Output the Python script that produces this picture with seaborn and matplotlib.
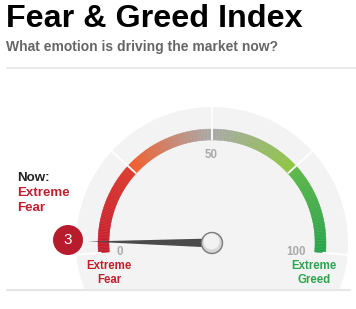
import numpy as np
import matplotlib
matplotlib.use("Agg")
import matplotlib.pyplot as plt
from matplotlib.patches import Wedge, Circle, Polygon
from matplotlib.colors import LinearSegmentedColormap
import seaborn as sns

# ---- data ----
title = "Fear & Greed Index"
subtitle = "What emotion is driving the market now?"
current_value = 3
current_label = ["Now:", "Extreme", "Fear"]
tick_values = [0, 50, 100]
zone_bounds = [0, 25, 50, 75, 100]
zone_colors = [("#c41c2c", "#dc382c"),
               ("#f25a28", "#a8a8a8"),
               ("#a8a8a8", "#8cc63f"),
               ("#5bb747", "#2aa24b")]
end_labels = ["Extreme\nFear", "Extreme\nGreed"]

sns.set_theme(style="white")
plt.rcParams["font.family"] = ["Liberation Sans", "DejaVu Sans"]

W, H = 356, 309
fig = plt.figure(figsize=(W / 100, H / 100), dpi=100)
ax = fig.add_axes([0, 0, 1, 1])
ax.set_xlim(0, W)
ax.set_ylim(H, 0)
ax.axis("off")

cx, cy = 212, 243
r_gray = 136
r_out, r_in = 114, 103

def ang(v):
    return 185 - 1.9 * v

def pt(v, r):
    a = np.radians(ang(v))
    return cx + r * np.cos(a), cy - r * np.sin(a)

# background disk, clipped at bottom separator
disk = Circle((cx, cy), r_gray, facecolor="#f3f3f3", edgecolor="none", zorder=1)
ax.add_patch(disk)
clip = plt.Rectangle((0, 0), W, 290, transform=ax.transData)
disk.set_clip_path(clip)

# gradient arc (y axis inverted -> wedge angles negated)
for (lo, hi), (c0, c1) in zip(zip(zone_bounds[:-1], zone_bounds[1:]), zone_colors):
    cmap = LinearSegmentedColormap.from_list("z", [c0, c1])
    n = 60
    vs = np.linspace(lo, hi, n + 1)
    for i in range(n):
        a1, a2 = ang(vs[i]), ang(vs[i + 1])
        col = cmap(i / (n - 1))
        w = Wedge((cx, cy), r_out, -a1, -a2, width=r_out - r_in,
                  facecolor=col, edgecolor=col, linewidth=0.3, zorder=2)
        ax.add_patch(w)

# white separators
for v in zone_bounds:
    x1, y1 = pt(v, r_in if v in (25, 50, 75) else r_out - 3)
    x2, y2 = pt(v, r_gray + 1)
    ax.plot([x1, x2], [y1, y2], color="white", lw=1.3, zorder=3, solid_capstyle="butt")

# tick labels
tick_pos = {0: (120, 252), 50: (211, 155), 100: (296, 252)}
for t in tick_values:
    x, y = tick_pos[t]
    ax.text(x, y, str(t), color="#aaaaaa", fontsize=8.3, fontweight="bold",
            ha="center", va="center", zorder=4)

# end labels
ax.text(109, 273, end_labels[0], color="#c0202e", fontsize=8.3, fontweight="bold",
        ha="center", va="center", linespacing=1.15, zorder=4)
ax.text(314, 273, end_labels[1], color="#2da44e", fontsize=8.3, fontweight="bold",
        ha="center", va="center", linespacing=1.15, zorder=4)

# needle
a = np.radians(ang(current_value))
tipx, tipy = cx + 124 * np.cos(a), cy - 124 * np.sin(a)
px, py = -np.sin(a), -np.cos(a)
hw = 4.5
needle = Polygon([(tipx, tipy), (cx + hw * px, cy + hw * py), (cx - hw * px, cy - hw * py)],
                 closed=True, facecolor="#4a4a4a", edgecolor="none", zorder=5)
ax.add_patch(needle)
ax.add_patch(Circle((cx, cy), 10.5, facecolor="#d6d6d6", edgecolor="#7a7a7a", lw=1.0, zorder=6))
ax.add_patch(Circle((cx - 0.5, cy - 1.5), 8, facecolor="#f2f2f2", edgecolor="none", zorder=6))

# value bubble
ax.add_patch(Circle((68, 240), 15, facecolor="#b71c2c", edgecolor="none", zorder=6))
ax.text(68, 240.5, str(current_value), color="white", fontsize=11, ha="center", va="center", zorder=7)

# Now label
ax.text(17, 178, current_label[0], color="#222222", fontsize=9.6, fontweight="bold", va="center")
ax.text(17, 193, current_label[1], color="#c0202e", fontsize=9.6, fontweight="bold", va="center")
ax.text(17, 208, current_label[2], color="#c0202e", fontsize=9.6, fontweight="bold", va="center")

# titles
ax.text(6, 19, title, color="black", fontsize=23.2, fontweight="bold", va="center")
ax.text(6, 47, subtitle, color="#666666", fontsize=10.0, fontweight="bold", va="center")

# separators
sns.lineplot(x=[7, 356], y=[68, 68], color="#e6e6e6", linewidth=1.2, ax=ax, legend=False)
sns.lineplot(x=[7, 350], y=[290, 290], color="#e6e6e6", linewidth=1.5, ax=ax, legend=False)
ax.set_xlim(0, W)
ax.set_ylim(H, 0)

fig.savefig("out.png", dpi=100)
